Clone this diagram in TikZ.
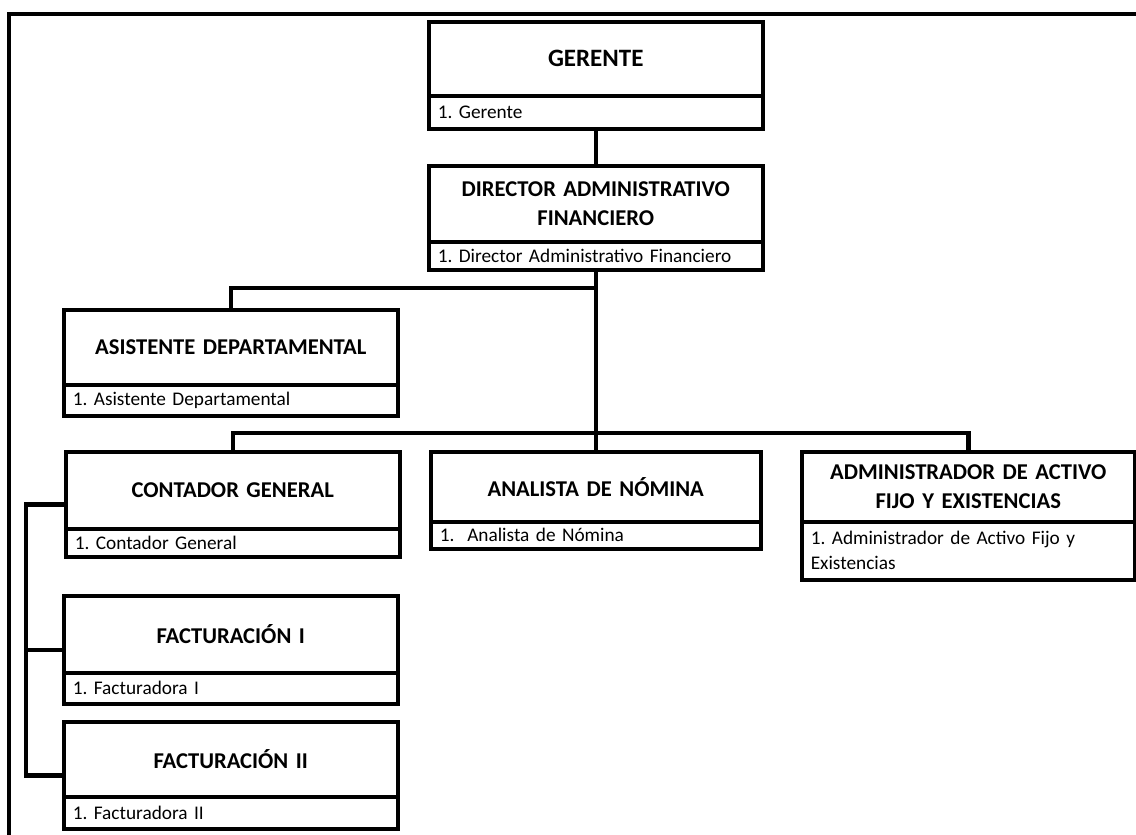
\documentclass[tikz,border=0pt]{standalone}
\usepackage{fontspec}
\setmainfont[WordSpace=0.85]{Carlito}
\usetikzlibrary{calc}
\frenchspacing

% One organisational unit: a bold title cell above a cell listing the post.
% #1 name, #2 left, #3 top, #4 right, #5 divider, #6 bottom, #7 title, #8 post
\newcommand\orgbox[8]{%
  \pgfmathsetmacro\obW{#4-#2}%
  \pgfmathsetmacro\obT{#5-#3}%
  \pgfmathsetmacro\obS{#6-#5}%
  \pgfmathsetmacro\obX{#4-#2-18}%
  \pgfmathsetmacro\obY{#4-#2-12}%
  \node[titlebox, minimum width=\obW pt, minimum height=\obT pt, text width=\obY pt] (#1) at (#2,#3) {#7};
  \node[subbox, minimum width=\obW pt, minimum height=\obS pt, text width=\obX pt] (#1-s) at (#2,#5) {#8};
}
% larger lettering for the head of the organisation
\newcommand\headtitle[1]{{\fontsize{25}{30}\selectfont #1}}

\begin{document}
\begin{tikzpicture}[x=1pt,y=-1pt,
  boxline/.style={draw=black, line width=3.5pt},
  titlebox/.style={boxline, anchor=north west, inner sep=0pt, align=center,
    font=\fontsize{22.6}{29.5}\selectfont\bfseries},
  subbox/.style={boxline, anchor=north west, inner xsep=9pt, inner ysep=0pt, align=left,
    font=\fontsize{19.3}{25}\selectfont},
  link/.style={draw=black, line width=4.5pt},
  frame/.style={draw=black, line width=4.5pt, line join=miter}]

\clip (0,0) rectangle (1136,835);
\useasboundingbox (0,0) rectangle (1136,835);

% outer frame
\draw[frame] (9,850) -- (9,14) -- (1150,14);

% units
\orgbox{ger}{427}{20}{761}{94}{127}{\headtitle{GERENTE}}{1. Gerente}
\orgbox{dir}{427}{164}{761}{240}{268}{DIRECTOR ADMINISTRATIVO\\FINANCIERO}{1. Director Administrativo Financiero}
\orgbox{asi}{62}{308}{396}{383}{414}{ASISTENTE DEPARTAMENTAL}{1. Asistente Departamental}
\orgbox{con}{64}{450}{398}{527}{555}{CONTADOR GENERAL}{1. Contador General}
\orgbox{ana}{429}{450}{759}{520}{547}{ANALISTA DE NÓMINA}{1.\ \ Analista de Nómina}
\orgbox{adm}{800}{450}{1133}{520}{578}{ADMINISTRADOR DE ACTIVO\\FIJO Y EXISTENCIAS}{1. Administrador de Activo Fijo y\\Existencias}
\orgbox{fa1}{62}{594}{396}{671}{702}{FACTURACIÓN I}{1. Facturadora I}
\orgbox{fa2}{62}{720}{396}{795}{827}{FACTURACIÓN II}{1. Facturadora II}

% junctions
\coordinate (j1) at (594,288);
\coordinate (j2) at (594,433);
\coordinate (bx) at (26,0);
\coordinate (conm) at ($(con.north west)!.5!(con-s.south west)$);
\coordinate (fa1m) at ($(fa1.north west)!.5!(fa1-s.south west)$);
\coordinate (fa2m) at ($(fa2.north west)!.5!(fa2-s.south west)$);

% reporting lines
\draw[link] (ger-s.south) -- (dir.north);
\draw[link] (dir-s.south) -- (ana.north);
\draw[link] (asi.north) |- (j1);
\draw[link] (con.north) |- (j2) -| (adm.north);
\draw[link] (conm) -- (conm -| bx) |- (fa2m);
\draw[link] (fa1m) -- (fa1m -| bx);
\end{tikzpicture}
\end{document}
